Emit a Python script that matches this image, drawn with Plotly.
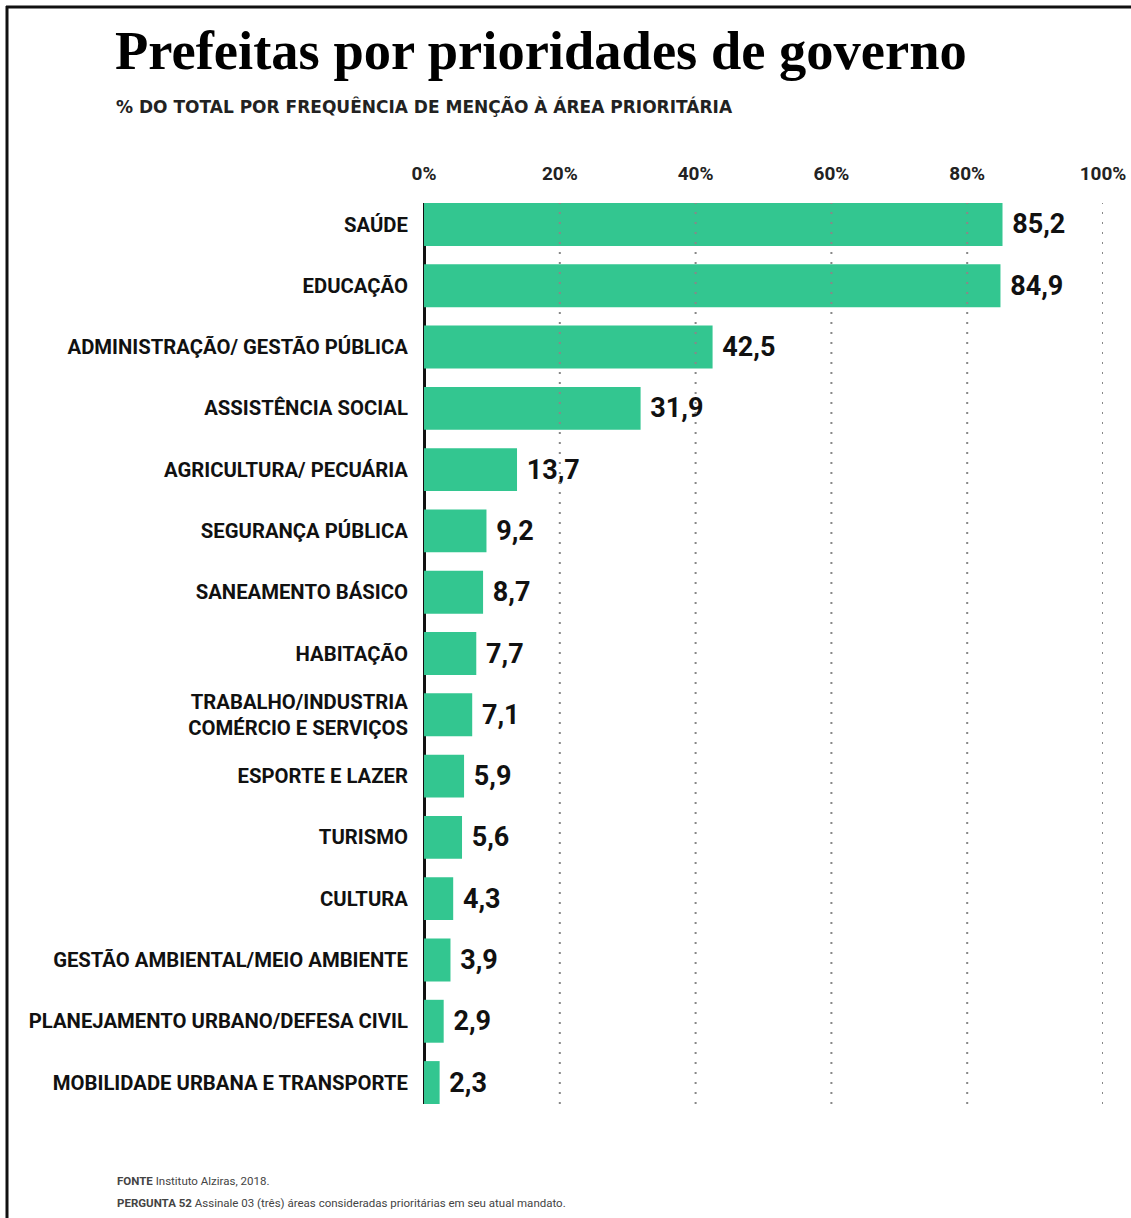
import plotly.graph_objects as go

categories = [
    "SAÚDE", "EDUCAÇÃO", "ADMINISTRAÇÃO/ GESTÃO PÚBLICA", "ASSISTÊNCIA SOCIAL",
    "AGRICULTURA/ PECUÁRIA", "SEGURANÇA PÚBLICA", "SANEAMENTO BÁSICO", "HABITAÇÃO",
    "TRABALHO/INDUSTRIA<br>COMÉRCIO E SERVIÇOS", "ESPORTE E LAZER", "TURISMO", "CULTURA",
    "GESTÃO AMBIENTAL/MEIO AMBIENTE", "PLANEJAMENTO URBANO/DEFESA CIVIL",
    "MOBILIDADE URBANA E TRANSPORTE",
]
values = [85.2, 84.9, 42.5, 31.9, 13.7, 9.2, 8.7, 7.7, 7.1, 5.9, 5.6, 4.3, 3.9, 2.9, 2.3]
tick_values = [0, 20, 40, 60, 80, 100]
tick_labels = ["0%", "20%", "40%", "60%", "80%", "100%"]

title = "Prefeitas por prioridades de governo"
subtitle = "% DO TOTAL POR FREQUÊNCIA DE MENÇÃO À ÁREA PRIORITÁRIA"
source = "<b>FONTE</b> Instituto Alziras, 2018."
question = "<b>PERGUNTA 52</b> Assinale 03 (três) áreas consideradas prioritárias em seu atual mandato."

W, H = 1131, 1218
L, R, T, B = 424, 28, 203, 114
pw, ph = W - L - R, H - T - B

def px(x):
    return (x - L) / pw

def py(y):
    return (H - B - y) / ph

labels = [" " + f"{v:.1f}".replace(".", ",") for v in values]

SANS = "Roboto, sans-serif"

fig = go.Figure(go.Bar(
    x=values, y=categories, orientation="h",
    marker=dict(color="#33C690", line=dict(width=0)),
    width=0.7,
    text=labels, textposition="outside", cliponaxis=False, constraintext="none",
    textfont=dict(family=SANS, size=27, color="#111", weight="bold"),
    hoverinfo="skip",
))

shapes = []
for tv in tick_values[1:]:
    shapes.append(dict(type="line", xref="x", yref="paper", x0=tv, x1=tv, y0=0, y1=1,
                       line=dict(color="#888888", width=2, dash="2px,8px"), layer="above"))
shapes.append(dict(type="line", xref="paper", yref="paper", x0=px(7), x1=px(7),
                   y0=py(H + 5), y1=py(6), line=dict(color="#111", width=3)))
shapes.append(dict(type="line", xref="paper", yref="paper", x0=px(6), x1=px(W + 5),
                   y0=py(7), y1=py(7), line=dict(color="#111", width=3)))

annotations = [
    dict(text=title, xref="paper", yref="paper", x=px(113), y=py(83), xanchor="left",
         yanchor="bottom", showarrow=False,
         font=dict(family="Liberation Serif, DejaVu Serif, serif", size=54.5, color="#000", weight="bold")),
    dict(text=subtitle, xref="paper", yref="paper", x=px(114), y=py(106), xanchor="left",
         yanchor="middle", showarrow=False,
         font=dict(family="DejaVu Sans, sans-serif", size=17, color="#222", weight="bold")),
    dict(text=source, xref="paper", yref="paper", x=px(115), y=py(1181), xanchor="left",
         yanchor="middle", showarrow=False,
         font=dict(family=SANS, size=11.5, color="#444")),
    dict(text=question, xref="paper", yref="paper", x=px(115), y=py(1203), xanchor="left",
         yanchor="middle", showarrow=False,
         font=dict(family=SANS, size=11.5, color="#444")),
]

fig.update_layout(
    width=W, height=H,
    margin=dict(l=L, r=R, t=T, b=B, autoexpand=False),
    paper_bgcolor="white", plot_bgcolor="white",
    showlegend=False,
    shapes=shapes, annotations=annotations,
    xaxis=dict(range=[0, 100], side="top", tickvals=tick_values, ticktext=tick_labels,
               showgrid=False, zeroline=True, zerolinecolor="#111", zerolinewidth=3,
               ticks="outside", ticklen=14, tickcolor="rgba(0,0,0,0)",
               tickfont=dict(family=SANS, size=19, color="#222", weight="bold"),
               showline=False, fixedrange=True),
    yaxis=dict(range=[14.35, -0.35], showgrid=False, zeroline=False, showline=False,
               ticks="outside", ticklen=11, tickcolor="rgba(0,0,0,0)",
               tickfont=dict(family=SANS, size=20.3, color="#111", weight="bold"),
               fixedrange=True),
)

fig.write_html("out.html", post_script="document.body.style.margin='0';",
               config={"displayModeBar": False})
